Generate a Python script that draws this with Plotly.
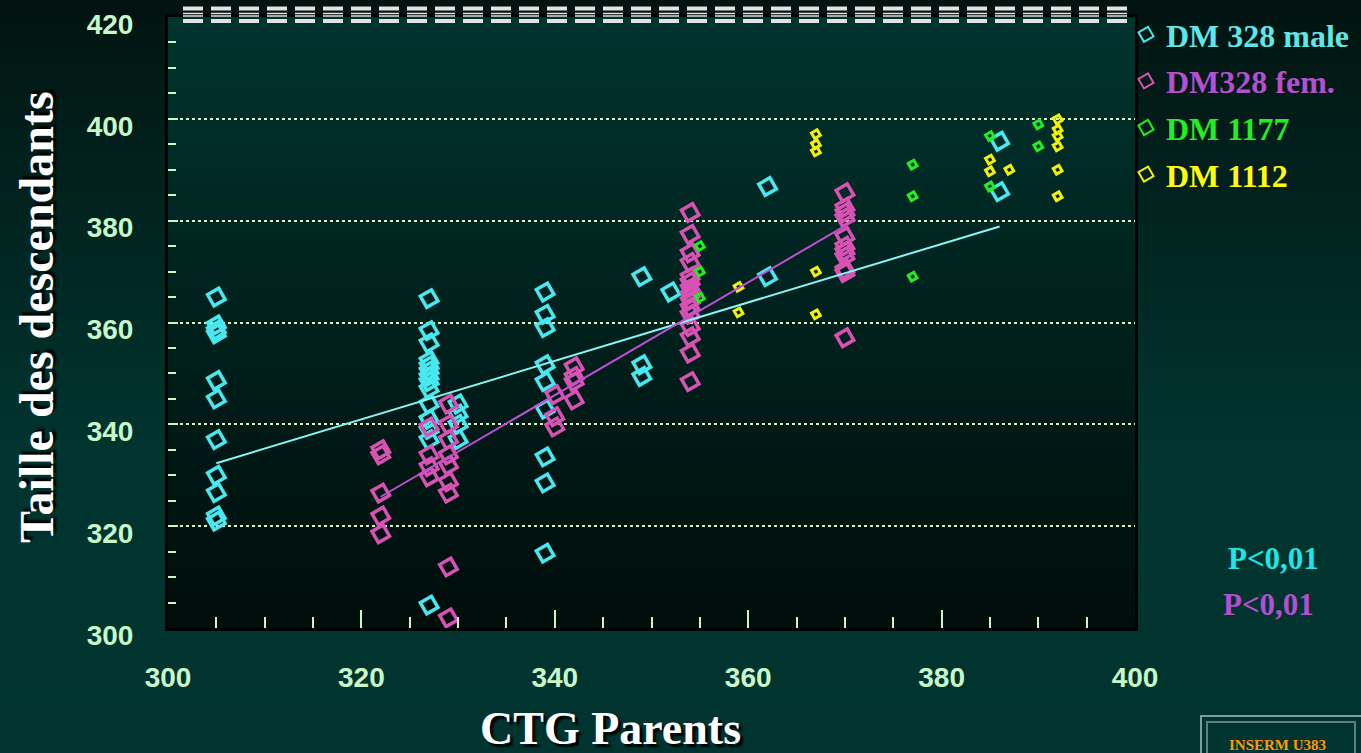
import numpy as np
import plotly.graph_objects as go

# ---- data: CTG repeat length of parent vs. offspring ----
male_x = [305] * 11 + [327] * 14 + [330] * 4 + [339] * 9 + [349] * 3 + [352] + [362] * 2 + [386] * 2
male_y = [365, 359.5, 358.5, 357.8, 348.6, 345, 337, 330, 326.6, 322, 321,
          364.7, 358.4, 356, 352.5, 351.5, 350.5, 349.4, 348.4, 347, 344, 341, 339, 337, 304.5,
          344, 342, 340, 337,
          366, 361.6, 359, 351.7, 348.4, 343, 333.6, 328.5, 314.7,
          369, 351.7, 349.4,
          366,
          386.7, 369,
          395.6, 385.7]

fem_x = [322] * 5 + [327] * 4 + [329] * 9 + [340] * 3 + [342] * 4 + [354] * 15 + [370] * 11
fem_y = [335, 334, 326.5, 322, 318.5,
         339.5, 334, 331.7, 329.7,
         344, 340, 337, 334, 332, 328.7, 326.5, 312, 302,
         345.8, 341.5, 339.5,
         351.3, 349.4, 348.4, 344.8,
         381.6, 377.3, 373.7, 371.8, 369, 368, 366.8, 365.5, 364.3, 363, 361.6, 359.2, 357.2, 354, 348.4,
         385.5, 382.6, 381.6, 380.6, 376.9, 375, 374, 373, 370.4, 369.8, 357]

dm1177_x = [355] * 3 + [377] * 3 + [385] * 2 + [390] * 2
dm1177_y = [375, 370, 364.9, 391, 384.8, 369, 396.6, 386.7, 398.9, 394.6]

dm1112_x = [359] * 2 + [367] * 5 + [385] * 2 + [387] + [392] * 6
dm1112_y = [367, 362, 397, 395, 393.6, 370, 361.6, 392, 389.7, 390,
            399.9, 397.9, 396.6, 394.6, 390, 384.8]

# linear fits (slope, intercept) and the x-span they are drawn over
male_fit = (0.574, 157.3)
male_fit_span = [305, 386]
fem_fit = (1.108, -31.0)
fem_fit_span = [322, 370]

x_ticks = [300, 320, 340, 360, 380, 400]
y_ticks = [300, 320, 340, 360, 380, 400, 420]

# ---- page geometry ----
W, H = 1361, 753
L, R, T, B = 168, 226, 17, 125
PW, PH = W - L - R, H - T - B


def px(x):
    return (x - L) / PW


def py(y):
    return (H - B - y) / PH


def mix(c0, c1, t):
    return "rgb(%d,%d,%d)" % tuple(round(a + (b - a) * t) for a, b in zip(c0, c1))


shapes = []
# background of the whole slide: dark at top, teal lower down
n = 60
for i in range(n):
    y0, y1 = H * i / n, H * (i + 1) / n + 1
    t = min(1.0, (y0 / 440) ** 0.9)
    shapes.append(dict(type="rect", xref="paper", yref="paper", layer="below",
                       x0=px(0), x1=px(W), y0=py(y1), y1=py(y0),
                       fillcolor=mix((2, 19, 16), (1, 52, 47), t), line_width=0))
# plotting area: teal at top fading to near black
for i in range(n):
    y0 = T + PH * i / n
    y1 = T + PH * (i + 1) / n + 1
    t = i / (n - 1)
    shapes.append(dict(type="rect", xref="paper", yref="paper", layer="below",
                       x0=0, x1=1, y0=py(min(y1, H - B)), y1=py(y0),
                       fillcolor=mix((0, 52, 46), (0, 13, 11), t), line_width=0))

# dashed ornament along the top edge
for yy, wdt in [(8.5, 4), (13.5, 1.5), (16, 1.5), (21, 4)]:
    shapes.append(dict(type="line", xref="paper", yref="paper", layer="above",
                       x0=px(183), x1=px(1127), y0=py(yy), y1=py(yy),
                       line=dict(color="#e2e2e2", width=wdt, dash="20px,8px")))

# framed label in the bottom-right corner
shapes.append(dict(type="rect", xref="paper", yref="paper", layer="above",
                   x0=px(1201), x1=px(1366), y0=py(760), y1=py(716),
                   line=dict(color="#7e9e9c", width=2), fillcolor="rgba(0,0,0,0)"))
shapes.append(dict(type="rect", xref="paper", yref="paper", layer="above",
                   x0=px(1207), x1=px(1355), y0=py(760), y1=py(722),
                   line=dict(color="#5f807e", width=2), fillcolor="rgba(0,0,0,0)"))

fig = go.Figure()

marker_common = dict(symbol="diamond-open", angle=15)

fig.add_trace(go.Scatter(x=male_x, y=male_y, mode="markers", name="DM 328 male",
                         legendgroup="a",
                         marker=dict(color="#48e8f0", size=14, line=dict(width=3.5, color="#48e8f0"),
                                     **marker_common)))
fig.add_trace(go.Scatter(x=fem_x, y=fem_y, mode="markers", name="DM328 fem.",
                         legendgroup="b",
                         marker=dict(color="#d852b4", size=14, line=dict(width=3.5, color="#d852b4"),
                                     **marker_common)))
fig.add_trace(go.Scatter(x=dm1177_x, y=dm1177_y, mode="markers", name="DM 1177",
                         legendgroup="c",
                         marker=dict(color="#22ee22", size=7, line=dict(width=3, color="#22ee22"),
                                     **marker_common)))
fig.add_trace(go.Scatter(x=dm1112_x, y=dm1112_y, mode="markers", name="DM 1112",
                         legendgroup="d",
                         marker=dict(color="#f4f400", size=7, line=dict(width=3, color="#f4f400"),
                                     **marker_common)))

# regression lines
fx = np.array(male_fit_span, dtype=float)
fig.add_trace(go.Scatter(x=fx, y=np.polyval(male_fit, fx), mode="lines", showlegend=False,
                         line=dict(color="#86f6f6", width=2), hoverinfo="skip"))
fx = np.array(fem_fit_span, dtype=float)
fig.add_trace(go.Scatter(x=fx, y=np.polyval(fem_fit, fx), mode="lines", showlegend=False,
                         line=dict(color="#c04fd0", width=2), hoverinfo="skip"))

# series names in the legend are shown in each series' own colour
legend_colors = ["#5fe6e6", "#b44fcf", "#22ee22", "#ffff00"]
for tr, c in zip(fig.data[:4], legend_colors):
    tr.name = f'<span style="color:{c}">{tr.name}</span>'

tick_font = dict(family="Liberation Sans, Arial, sans-serif", size=28, color="#c8f8c8", weight="bold")
serif = "Liberation Serif, Times New Roman, serif"

annotations = [
    dict(text="CTG Parents", xref="paper", yref="paper", x=px(610), y=py(728),
         showarrow=False, xanchor="center", yanchor="middle",
         font=dict(family=serif, size=46, color="#ffffff", weight="bold",
                   shadow="3px 3px 2px #000000")),
    dict(text="Taille des descendants", xref="paper", yref="paper", x=px(36), y=py(317),
         showarrow=False, xanchor="center", yanchor="middle", textangle=-90,
         font=dict(family=serif, size=48, color="#ffffff", weight="bold",
                   shadow="3px 3px 2px #000000")),
    dict(text="P<0,01", xref="paper", yref="paper", x=px(1273), y=py(558),
         showarrow=False, xanchor="center", yanchor="middle",
         font=dict(family=serif, size=31, color="#1ee6e6", weight="bold")),
    dict(text="P<0,01", xref="paper", yref="paper", x=px(1268), y=py(604),
         showarrow=False, xanchor="center", yanchor="middle",
         font=dict(family=serif, size=31, color="#b44fcf", weight="bold")),
    dict(text="INSERM U383", xref="paper", yref="paper", x=px(1277), y=py(745),
         showarrow=False, xanchor="center", yanchor="middle",
         font=dict(family=serif, size=15, color="#ff9900", weight="bold")),
]

fig.update_layout(
    width=W, height=H, autosize=False,
    margin=dict(l=L, r=R, t=T, b=B, pad=0, autoexpand=False),
    paper_bgcolor="#012a26", plot_bgcolor="rgba(0,0,0,0)",
    shapes=shapes, annotations=annotations,
    showlegend=True,
    legend=dict(x=px(1126), y=py(7), xanchor="left", yanchor="top",
                bgcolor="rgba(0,0,0,0)", borderwidth=0, tracegroupgap=2,
                itemsizing="constant", itemwidth=30,
                font=dict(family=serif, size=32, color="#ffffff", weight="bold")),
    xaxis=dict(range=[300, 400], tickvals=x_ticks, showgrid=False, zeroline=False,
               showline=True, linecolor="#000000", linewidth=3, mirror=True,
               ticks="inside", ticklen=18, tickwidth=2, tickcolor="#c8f8c8",
               minor=dict(dtick=5, ticks="inside", ticklen=11, tickwidth=2, tickcolor="#c8f8c8",
                          showgrid=False),
               tickfont=tick_font, ticklabelstandoff=22),
    yaxis=dict(range=[300, 420], tickvals=y_ticks, showgrid=True, gridcolor="#d4f2c4",
               gridwidth=2, griddash="dot", zeroline=False,
               showline=True, linecolor="#000000", linewidth=3, mirror=True,
               ticks="inside", ticklen=10, tickwidth=2, tickcolor="#c8f8c8",
               minor=dict(dtick=5, ticks="inside", ticklen=8, tickwidth=2, tickcolor="#c8f8c8",
                          showgrid=False),
               tickfont=tick_font, ticklabelstandoff=26, ticklabelshift=7),
)

fig.write_html("out.html")
